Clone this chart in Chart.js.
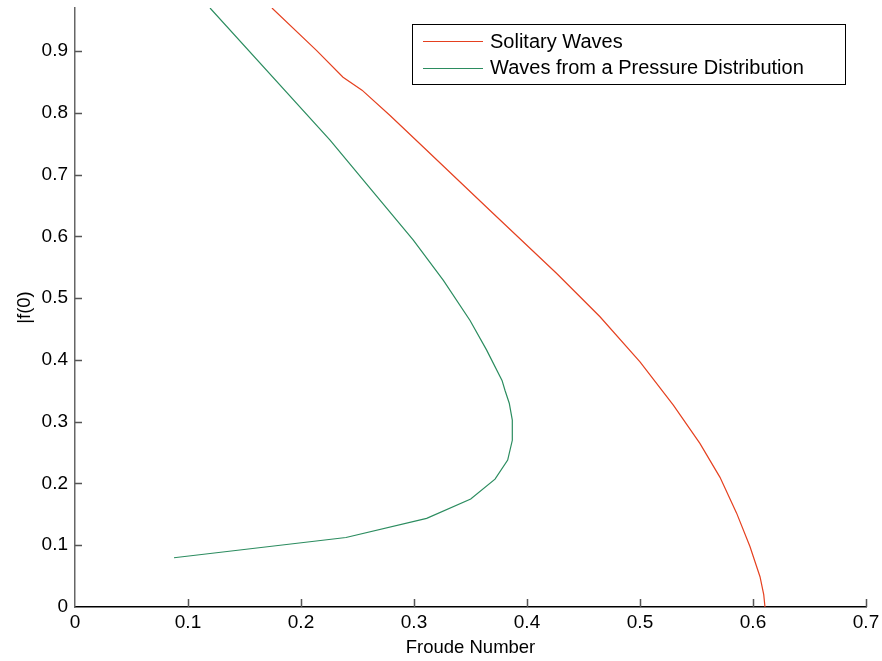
<!DOCTYPE html>
<html>
<head>
<meta charset="utf-8">
<script src="https://cdn.jsdelivr.net/npm/chart.js@4/dist/chart.umd.min.js"></script>
<style>
  html, body { margin: 0; padding: 0; background: #fff; }
  #wrap { width: 882px; height: 661px; }
</style>
</head>
<body>
<div id="wrap"><canvas id="myChart"></canvas></div>
<script>
// Froude number vs |f(0)|
var solitaryF = [0.1743, 0.2139, 0.2372, 0.254, 0.2788, 0.3082, 0.3673, 0.4263, 0.4646, 0.5, 0.5295, 0.553, 0.5708, 0.5855, 0.5973, 0.6062, 0.6095, 0.6106];
var solitaryA = [0.97, 0.901, 0.858, 0.837, 0.796, 0.745, 0.642, 0.540, 0.470, 0.397, 0.327, 0.265, 0.210, 0.152, 0.098, 0.049, 0.02, 0];

var pressureF = [0.1195, 0.2257, 0.264, 0.2994, 0.326, 0.3496, 0.3643, 0.3779, 0.3805, 0.3843, 0.387, 0.387, 0.3829, 0.3717, 0.3502, 0.3112, 0.2398, 0.0876];
var pressureA = [0.97, 0.756, 0.672, 0.594, 0.529, 0.464, 0.416, 0.367, 0.351, 0.330, 0.3026, 0.270, 0.2379, 0.2071, 0.1748, 0.1435, 0.1125, 0.0798];

var xTicks = [0, 0.1, 0.2, 0.3, 0.4, 0.5, 0.6, 0.7];
var yTicks = [0, 0.1, 0.2, 0.3, 0.4, 0.5, 0.6, 0.7, 0.8, 0.9];

var labels = ['Solitary Waves', 'Waves from a Pressure Distribution'];
var colors = ['#e5401f', '#2b8c5f'];

var FONT = "'Liberation Sans', Arial, sans-serif";

function toPoints(xs, ys){
  return xs.map(function(x, i){ return {x: x, y: ys[i]}; });
}

// ticks pointing into the plot, matlab style
var innerTicks = {
  id: 'innerTicks',
  afterDraw: function(chart){
    var ctx = chart.ctx;
    var area = chart.chartArea;
    var xs = chart.scales.x, ys = chart.scales.y;
    ctx.save();
    ctx.strokeStyle = '#555';
    ctx.lineWidth = 1.5;
    ctx.beginPath();
    xTicks.forEach(function(v){
      if (v === 0) return;
      var px = Math.round(xs.getPixelForValue(v)) + 0.5;
      ctx.moveTo(px, area.bottom);
      ctx.lineTo(px, area.bottom - 8);
    });
    yTicks.forEach(function(v){
      if (v === 0) return;
      var py = Math.round(ys.getPixelForValue(v)) + 0.5;
      ctx.moveTo(area.left, py);
      ctx.lineTo(area.left + 7, py);
    });
    ctx.stroke();
    ctx.restore();
  }
};

// boxed legend inside the axes, top right
var boxLegend = {
  id: 'boxLegend',
  afterDraw: function(chart){
    var ctx = chart.ctx;
    var area = chart.chartArea;
    var right = area.right - 21, top = area.top + 16;
    var left = right - 433, height = 60;
    ctx.save();
    ctx.fillStyle = '#fff';
    ctx.fillRect(left, top, right - left, height);
    ctx.strokeStyle = '#000';
    ctx.lineWidth = 1;
    ctx.strokeRect(left + 0.5, top + 0.5, right - left, height);
    ctx.font = '20px ' + FONT;
    ctx.textBaseline = 'middle';
    chart.data.datasets.forEach(function(ds, i){
      var y = top + 17 + i * 26.5;
      ctx.strokeStyle = ds.borderColor;
      ctx.beginPath();
      ctx.moveTo(left + 11, Math.round(y) + 0.5);
      ctx.lineTo(left + 71, Math.round(y) + 0.5);
      ctx.stroke();
      ctx.fillStyle = '#000';
      ctx.fillText(ds.label, left + 78, y + 1);
    });
    ctx.restore();
  }
};

window.onload = function(){
  var ctx = document.getElementById('myChart');
  new Chart(ctx, {
    type: 'scatter',
    data: {
      datasets: [{
        label: labels[0],
        data: toPoints(solitaryF, solitaryA),
        borderColor: colors[0],
        backgroundColor: colors[0],
        borderWidth: 1.2,
        showLine: true,
        pointRadius: 0,
        tension: 0
      }, {
        label: labels[1],
        data: toPoints(pressureF, pressureA),
        borderColor: colors[1],
        backgroundColor: colors[1],
        borderWidth: 1.2,
        showLine: true,
        pointRadius: 0,
        tension: 0
      }]
    },
    options: {
      animation: false,
      responsive: true,
      maintainAspectRatio: false,
      layout: { padding: { top: 8, right: 16, left: 0, bottom: 0 } },
      plugins: {
        legend: { display: false },
        tooltip: { enabled: false }
      },
      scales: {
        x: {
          type: 'linear',
          min: 0,
          max: 0.7,
          afterBuildTicks: function(scale){
            scale.ticks = xTicks.map(function(v){ return {value: v}; });
          },
          afterFit: function(scale){
            scale.height = 54;
            scale.paddingLeft = 0;
            scale.paddingRight = 0;
          },
          ticks: { color: '#000', font: { family: FONT, size: 19 }, padding: 4, maxRotation: 0 },
          grid: { display: false, drawTicks: false },
          border: { display: true, color: '#000', width: 1.5 },
          title: {
            display: true,
            text: 'Froude Number',
            color: '#000',
            font: { family: FONT, size: 18.5 },
            padding: { top: 0, bottom: 2 }
          }
        },
        y: {
          type: 'linear',
          min: 0,
          max: 0.97,
          afterBuildTicks: function(scale){
            scale.ticks = yTicks.map(function(v){ return {value: v}; });
          },
          afterFit: function(scale){
            scale.width = 75;
            scale.paddingTop = 0;
            scale.paddingBottom = 0;
          },
          ticks: { color: '#000', font: { family: FONT, size: 19 }, padding: 7 },
          grid: { display: false, drawTicks: false },
          border: { display: true, color: '#666', width: 1.5 },
          title: {
            display: true,
            text: '|f(0)',
            color: '#000',
            font: { family: FONT, size: 18.5 },
            padding: { top: 14, bottom: 0 }
          }
        }
      }
    },
    plugins: [innerTicks, boxLegend]
  });
};
</script>
</body>
</html>
